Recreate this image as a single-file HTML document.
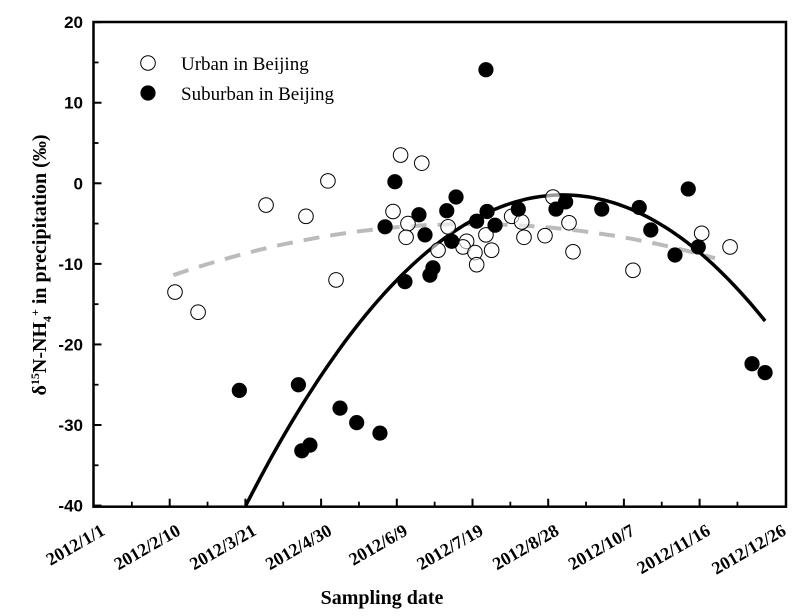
<!DOCTYPE html>
<html><head><meta charset="utf-8"><style>
html,body{margin:0;padding:0;background:#fff;}
svg{display:block;}
</style></head><body>
<svg id="chart" width="800" height="616" viewBox="0 0 800 616" xmlns="http://www.w3.org/2000/svg">
<g id="plot"></g>
</svg>
<script>
// ---- data (day of year 2012, value ‰) ----
const urbanDays=[42.8,55,90.9,112,123.6,127.9,158,162,173.2,165.9,164.9,187.1,196.9,181.8,195,201.3,202.2,207.1,210.1,220.7,226,227.2,238.3,242.5,251,253.1,284.8,321.1,336.1];
const urbanVals=[-13.5,-16,-2.7,-4.1,0.3,-12,-3.5,3.5,2.5,-5,-6.7,-5.4,-7.2,-8.3,-7.9,-8.6,-10.1,-6.4,-8.3,-4.1,-4.8,-6.7,-6.5,-1.7,-4.9,-8.5,-10.8,-6.2,-7.9];
const suburbanDays=[76.8,108,109.8,114.1,130,138.8,151.1,153.8,159,164.3,171.7,174.9,177.5,179.1,186.4,189,191.3,202.2,207.7,211.9,207.1,224.2,244.1,249.2,268.3,288.1,294.2,307,314,319.3,347.7,354.6];
const suburbanVals=[-25.7,-25,-33.2,-32.5,-27.9,-29.7,-31,-5.4,0.2,-12.2,-3.9,-6.4,-11.4,-10.5,-3.4,-7.2,-1.7,-4.7,-3.5,-5.2,14.1,-3.2,-3.2,-2.3,-3.2,-3.0,-5.8,-8.9,-0.7,-7.9,-22.4,-23.5];
// quadratic fit coefficients [c0,c1,c2] and day ranges
const urbanFit=[-15.224,0.10199,-0.0002558];
const urbanFitRange=[41.9,328.1];
const suburbanFit=[-85.7,0.68,-0.001372];
const suburbanFitRange=[80.2,354.6];
const yTicks=[20,10,0,-10,-20,-30,-40];
const xTickLabels=["2012/1/1","2012/2/10","2012/3/21","2012/4/30","2012/6/9","2012/7/19","2012/8/28","2012/10/7","2012/11/16","2012/12/26"];
const xTickDays=[0,40,80,120,160,200,240,280,320,360];

const L=93.5,R=786,T=22,B=506.7;
const xs=d=>94+d*1.8925;
const ys=v=>183.3-v*8.057;
const NS="http://www.w3.org/2000/svg";
const g=document.getElementById('plot');
function mk(tag,attrs,parent){const e=document.createElementNS(NS,tag);for(const k in attrs)e.setAttribute(k,attrs[k]);(parent||g).appendChild(e);return e;}

function fitPath(c,r){let p="";for(let i=0;i<=100;i++){const d=r[0]+(r[1]-r[0])*i/100;const v=c[0]+c[1]*d+c[2]*d*d;p+=(i?"L":"M")+xs(d).toFixed(1)+","+ys(v).toFixed(1);}return p;}
const gf=mk('path',{d:fitPath(urbanFit,urbanFitRange),fill:'none',stroke:'#bbb','stroke-width':4,'stroke-dasharray':'16,11'});


const cp=mk('clipPath',{id:'pc'});mk('rect',{x:L,y:T,width:R-L,height:B-T},cp);
const bf=mk('path',{d:fitPath(suburbanFit,suburbanFitRange),fill:'none',stroke:'#000','stroke-width':3.5,'clip-path':'url(#pc)'});



urbanDays.forEach((d,i)=>{
  const c=mk('circle',{cx:xs(d),cy:ys(urbanVals[i]),r:7.3,fill:'#fff','fill-opacity':0.6,stroke:'#000','stroke-width':1});
  
  
});
suburbanDays.forEach((d,i)=>{
  const c=mk('circle',{cx:xs(d),cy:ys(suburbanVals[i]),r:7.6,fill:'#000'});
  
  
});

const fr=mk('rect',{x:L,y:T,width:R-L,height:B-T,fill:'none',stroke:'#000','stroke-width':2.5});



yTicks.forEach(v=>{
  const y=ys(v);
  mk('line',{x1:L,x2:L+8,y1:y,y2:y,stroke:'#000','stroke-width':2});
  const t=mk('text',{x:83,y:y+6,'text-anchor':'end','font-family':'Liberation Sans, sans-serif','font-weight':'bold','font-size':17});
  t.textContent=v;
  
  
});
for(let v=15;v>-40;v-=10){const y=ys(v);mk('line',{x1:L,x2:L+5,y1:y,y2:y,stroke:'#000','stroke-width':1.8});}
xTickDays.forEach((d,i)=>{
  const x=xs(d);
  if(i>0&&i<9)mk('line',{x1:x,x2:x,y1:B,y2:B-8,stroke:'#000','stroke-width':2});
  if(i<9){const xm=xs(d+20);mk('line',{x1:xm,x2:xm,y1:B,y2:B-5,stroke:'#000','stroke-width':1.8});}
  const ax=x+12, ay=534;
  const t=mk('text',{x:ax,y:ay,'text-anchor':'end','font-family':'Liberation Serif, serif','font-weight':'bold','font-size':18,transform:`rotate(-30 ${ax} ${ay})`});
  t.textContent=xTickLabels[i];
  
  
});
</script>
<svg style="position:absolute;left:0;top:0" width="800" height="616" xmlns="http://www.w3.org/2000/svg">
<g>
<circle cx="148" cy="63" r="7.3" fill="#fff" stroke="#000" stroke-width="1"/>
<text x="181" y="70" font-family="Liberation Serif, serif" font-size="19">Urban in Beijing</text>
<circle cx="148" cy="93" r="7.6" fill="#000"/>
<text x="181" y="100" font-family="Liberation Serif, serif" font-size="19">Suburban in Beijing</text>
</g>
<text x="382" y="604" text-anchor="middle" font-family="Liberation Serif, serif" font-weight="bold" font-size="20">Sampling date</text>
<text transform="translate(46 265) rotate(-90)" text-anchor="middle" font-family="Liberation Serif, serif" font-weight="bold" font-size="20">δ<tspan font-size="12" dy="-7">15</tspan><tspan dy="7">N-NH</tspan><tspan font-size="12" dy="5">4</tspan><tspan font-size="12" dy="-12">+</tspan><tspan dy="7"> in precipitation (‰)</tspan></text>
</svg>
</body></html>
